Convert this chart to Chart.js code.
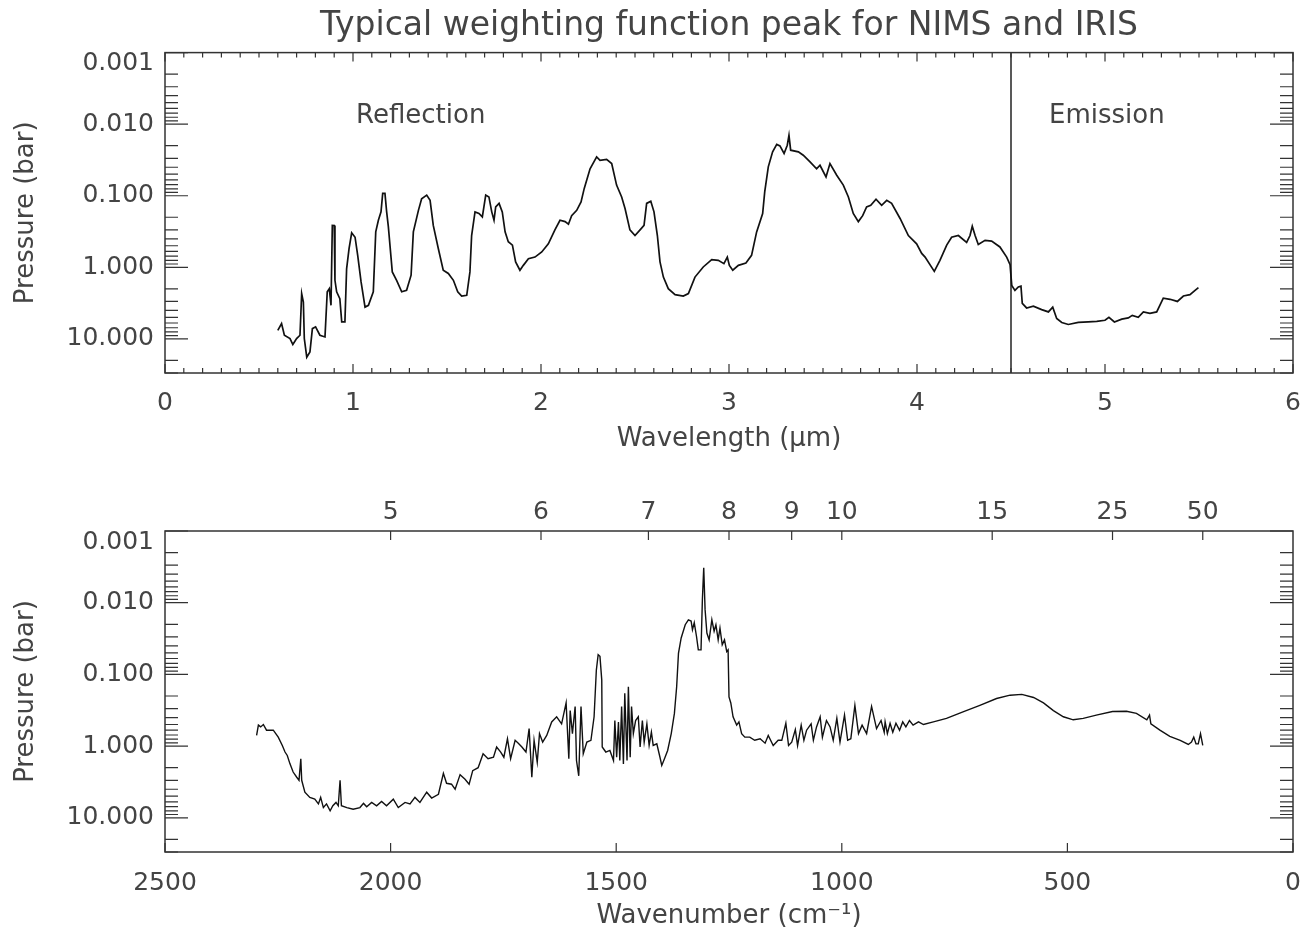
<!DOCTYPE html>
<html>
<head>
<meta charset="utf-8">
<title>Typical weighting function peak for NIMS and IRIS</title>
<script src="https://cdn.jsdelivr.net/npm/chart.js@4.4.1/dist/chart.umd.min.js"></script>
<style>
  html, body { margin: 0; padding: 0; background: #fff; }
  canvas { position: absolute; left: 0; }
  #top { top: 0; }
  #bottom { top: 460px; }
</style>
</head>
<body>
<canvas id="top" width="1301" height="460"></canvas>
<canvas id="bottom" width="1301" height="472"></canvas>
<script>
const FONT = "'DejaVu Sans', sans-serif";
const INK = '#444';
const LINE = '#111';

// axis ticks / labels
const pressureTicks = [0.001, 0.01, 0.1, 1, 10];
const wavelengthTicks = [0, 1, 2, 3, 4, 5, 6];
const wavenumberTicks = [2500, 2000, 1500, 1000, 500, 0];
const topWavelengthLabels = [5, 6, 7, 8, 9, 10, 15, 25, 50];
const regionNames = ['Reflection', 'Emission'];
const regionCentres = [1.36, 5.01];
const regionLabelPressure = 0.0077;
const boundaryWavelength = 4.5;

// NIMS: wavelength (um) vs pressure of weighting function peak (bar)
const nimsWavelength = [
  0.60, 0.62, 0.635, 0.665, 0.68, 0.70, 0.718, 0.727, 0.736, 0.741,
  0.754, 0.771, 0.784, 0.801, 0.824, 0.851, 0.863, 0.874, 0.883, 0.89,
  0.90, 0.904, 0.913, 0.93, 0.94, 0.957, 0.966, 0.979, 0.993, 1.011,
  1.025, 1.043, 1.064, 1.082, 1.108, 1.121, 1.135, 1.149, 1.158, 1.17,
  1.179, 1.188, 1.209, 1.232, 1.259, 1.285, 1.309, 1.321, 1.348, 1.365,
  1.392, 1.41, 1.427, 1.454, 1.48, 1.507, 1.534, 1.557, 1.578, 1.605,
  1.622, 1.631, 1.649, 1.67, 1.688, 1.706, 1.723, 1.738, 1.75, 1.759,
  1.777, 1.794, 1.809, 1.826, 1.848, 1.865, 1.888, 1.906, 1.933, 1.968,
  2.004, 2.039, 2.074, 2.101, 2.128, 2.146, 2.163, 2.19, 2.213, 2.23,
  2.261, 2.296, 2.314, 2.349, 2.376, 2.402, 2.429, 2.447, 2.473, 2.5,
  2.527, 2.548, 2.562, 2.584, 2.601, 2.619, 2.633, 2.651, 2.677, 2.713,
  2.757, 2.784, 2.819, 2.863, 2.908, 2.943, 2.973, 2.991, 3.002, 3.02,
  3.05, 3.09, 3.12, 3.147, 3.179, 3.19, 3.209, 3.232, 3.254, 3.271,
  3.293, 3.31, 3.319, 3.328, 3.369, 3.395, 3.431, 3.466, 3.484, 3.516,
  3.537, 3.573, 3.608, 3.635, 3.661, 3.688, 3.711, 3.732, 3.754, 3.782,
  3.812, 3.839,
  3.865, 3.91, 3.954, 3.998, 4.025, 4.043, 4.092, 4.122, 4.158, 4.184,
  4.22, 4.264, 4.282, 4.294, 4.309, 4.326, 4.362, 4.397, 4.441, 4.477,
  4.495, 4.504, 4.521, 4.539, 4.553, 4.56, 4.583, 4.619, 4.663, 4.699,
  4.722, 4.743, 4.77, 4.805, 4.858, 4.911, 4.956, 5.0, 5.021, 5.05,
  5.089, 5.124, 5.145, 5.177, 5.204, 5.239, 5.275, 5.31, 5.346, 5.385,
  5.417, 5.452, 5.479, 5.497
];
const nimsPressure = [
  7.6, 6.1, 8.9, 9.9, 12, 9.9, 8.9, 2.33, 3.06, 9.9,
  18, 15.2, 7.2, 6.8, 8.9, 9.4, 2.2, 1.99, 3.4, 0.259,
  0.26, 1.52, 2.2, 2.74, 5.8, 5.8, 1.05, 0.55, 0.33, 0.38,
  0.68, 1.6, 3.6, 3.4, 2.2, 0.32, 0.22, 0.168, 0.093, 0.093,
  0.168, 0.27, 1.16, 1.52, 2.2, 2.1, 1.29, 0.32, 0.16, 0.11,
  0.098, 0.116, 0.26, 0.55, 1.1, 1.22, 1.52, 2.2, 2.52, 2.46,
  1.16, 0.36, 0.168, 0.177, 0.198, 0.098, 0.104, 0.168, 0.22, 0.143,
  0.128, 0.168, 0.32, 0.44, 0.49, 0.84, 1.1, 0.94, 0.76, 0.72,
  0.61, 0.47, 0.30, 0.22, 0.23, 0.25, 0.19, 0.16, 0.122, 0.079,
  0.042, 0.0287, 0.032, 0.031, 0.0355, 0.071, 0.104, 0.151, 0.30, 0.36,
  0.30, 0.26, 0.128, 0.119, 0.168, 0.36, 0.84, 1.37, 1.99, 2.41,
  2.52, 2.33, 1.37, 0.99, 0.78, 0.80, 0.89, 0.72, 0.94, 1.1,
  0.94, 0.87, 0.68, 0.32, 0.177, 0.0885, 0.0395, 0.0244, 0.0192, 0.0201,
  0.0257, 0.0197, 0.0143, 0.0231, 0.0244, 0.0272, 0.0337, 0.042, 0.0375, 0.0546,
  0.0355, 0.0517, 0.071, 0.104, 0.177, 0.23, 0.19, 0.143, 0.136, 0.112,
  0.136, 0.116,
  0.128, 0.208, 0.36, 0.47, 0.64, 0.72, 1.14, 0.80, 0.49, 0.38,
  0.36, 0.45, 0.36, 0.267, 0.36, 0.48, 0.42, 0.43, 0.52, 0.72,
  0.92, 1.79, 2.1, 1.88, 1.83, 3.2, 3.7, 3.5, 3.9, 4.2,
  3.6, 5.2, 5.9, 6.3, 5.9, 5.8, 5.7, 5.5, 5.0, 5.8,
  5.3, 5.1, 4.7, 5.0, 4.2, 4.4, 4.2, 2.7, 2.8, 3.0,
  2.52, 2.41, 2.1, 1.92
];

// IRIS: wavenumber (cm-1) vs pressure (bar)
const irisWavenumber = [
  2297, 2293, 2288, 2282, 2275, 2260, 2249, 2240, 2234, 2229,
  2223, 2216, 2208, 2203, 2199, 2197, 2190, 2179, 2168, 2160,
  2155, 2149, 2142, 2134, 2128, 2121, 2116, 2112, 2109, 2097,
  2083, 2068, 2060, 2053, 2042, 2031, 2020, 2009, 1994, 1983,
  1968, 1957, 1946, 1935, 1920, 1909, 1894, 1883, 1876, 1865,
  1857, 1846, 1835, 1826, 1818, 1806, 1795, 1784, 1772, 1765,
  1756, 1749, 1741, 1734, 1724, 1717, 1709, 1700, 1693, 1687,
  1682, 1675, 1670, 1663, 1654, 1643, 1632, 1621, 1611, 1605,
  1602, 1597, 1591, 1588, 1583, 1578, 1573, 1565, 1556, 1549,
  1544, 1540, 1536, 1532, 1531, 1523, 1514, 1506, 1503, 1499,
  1495, 1492, 1488, 1484, 1481, 1476, 1473, 1469, 1466, 1462,
  1457, 1451, 1447, 1442, 1438, 1432, 1427, 1422, 1418, 1410,
  1403, 1399, 1393, 1386, 1378, 1371, 1366, 1362, 1356, 1347,
  1340, 1334, 1331, 1327, 1322, 1318, 1312, 1309, 1306, 1303,
  1299, 1294, 1288, 1283, 1279, 1274, 1270, 1265, 1260, 1255,
  1252, 1250, 1246, 1241, 1233, 1228, 1222, 1215, 1204, 1193,
  1181, 1170, 1163, 1152, 1141, 1133, 1124, 1118, 1111, 1103,
  1098, 1090, 1084, 1078, 1068, 1063, 1056, 1048, 1043, 1034,
  1026, 1019, 1011, 1004, 994, 987, 980, 971, 963, 955,
  945, 934, 923, 913, 906,
  904, 899, 893, 887, 880, 872, 865, 858, 850, 842,
  830, 819, 797, 768, 730, 694, 657, 627, 601, 575,
  553, 531, 509, 487, 465, 436, 400, 369, 347, 324,
  318, 315, 295, 273, 250, 232, 225, 220, 215, 210,
  205, 200
];
const irisPressure = [
  0.71, 0.51, 0.54, 0.50, 0.60, 0.60, 0.75, 0.98, 1.21, 1.35,
  1.77, 2.3, 2.72, 3.0, 1.5, 3.0, 4.4, 5.2, 5.5, 6.4,
  5.2, 7.2, 6.4, 8.0, 6.8, 6.1, 6.8, 3.0, 6.8, 7.2,
  7.6, 7.2, 6.3, 7.0, 6.1, 6.8, 5.9, 6.8, 5.5, 7.2,
  6.1, 6.4, 5.2, 6.1, 4.4, 5.3, 4.7, 2.4, 3.3, 3.4,
  4.0, 2.5, 2.9, 3.4, 2.2, 2.0, 1.28, 1.5, 1.43, 1.03,
  1.21, 1.43, 0.79, 1.5, 0.83, 0.91, 1.03, 1.21, 0.57, 2.72,
  0.83, 1.68, 0.67, 0.88, 0.71, 0.46, 0.39, 0.49, 0.25, 1.5,
  0.32, 0.67, 0.28, 1.59, 2.6, 0.28, 1.28, 0.88, 0.83, 0.39,
  0.087, 0.053, 0.056, 0.12, 1.03, 1.21, 1.15, 1.59, 0.44, 1.43,
  0.46, 1.59, 0.28, 1.77, 0.184, 1.59, 0.149, 1.43, 0.28, 0.67,
  0.44, 0.39, 1.03, 0.44, 0.88, 0.49, 0.98, 0.64, 0.98, 0.93,
  1.43, 1.86, 1.5, 1.15, 0.67, 0.35, 0.149, 0.051, 0.031, 0.0203,
  0.0173, 0.018, 0.0238, 0.019, 0.0296, 0.0455, 0.0455, 0.0091, 0.00325, 0.0125,
  0.0265, 0.033, 0.0173, 0.025, 0.0203, 0.033, 0.0226, 0.0387, 0.033, 0.048,
  0.0455, 0.206, 0.25, 0.39, 0.51, 0.46, 0.67, 0.75, 0.75, 0.83,
  0.79, 0.91, 0.71, 0.98, 0.83, 0.83, 0.48, 0.98, 0.88, 0.59,
  0.98, 0.51, 0.83, 0.60, 0.49, 0.83, 0.54, 0.39, 0.75, 0.44,
  0.54, 0.83, 0.41, 0.88, 0.37, 0.83, 0.79, 0.27, 0.67, 0.51,
  0.67, 0.28, 0.57, 0.44, 0.64,
  0.46, 0.67, 0.48, 0.64, 0.48, 0.60, 0.46, 0.54, 0.44, 0.51,
  0.46, 0.50, 0.46, 0.41, 0.33, 0.27, 0.217, 0.195, 0.19, 0.21,
  0.25, 0.32, 0.39, 0.43, 0.41, 0.37, 0.33, 0.326, 0.35, 0.43,
  0.37, 0.49, 0.60, 0.73, 0.83, 0.95, 0.88, 0.75, 0.93, 0.93,
  0.67, 0.98
];

// minor tick positions (IDL style inward ticks)
const minorPressure = [];
pressureTicks.forEach(d => {
  for (let m = 2; m <= 9; m++) if (m * d <= 30) minorPressure.push(m * d);
});
const minorWavelength = [];
for (let i = 0; i <= 60; i++) minorWavelength.push(i / 10);

// x axes: fixed height, and no extra side padding for the end labels
function fixHeight(h) {
  return s => { s.height = h; s.paddingLeft = 0; s.paddingRight = 0; };
}

function pressureAxis() {
  return {
    type: 'logarithmic', position: 'left', min: 0.001, max: 30, reverse: true,
    grid: { display: false, drawTicks: false }, border: { display: false },
    afterFit: s => { s.width = 165; },
    afterBuildTicks: s => { s.ticks = pressureTicks.map(v => ({ value: v })); },
    ticks: {
      padding: 11, color: INK, autoSkip: false,
      // IDL pushes the top label inside the frame
      font: c => ({ family: FONT, size: 25, lineHeight: c.tick && c.tick.value === 0.001 ? 0.88 : 1.2 }),
      callback: v => v === 0.001 ? ['', v.toFixed(3)] : v.toFixed(3)
    },
    title: { display: true, text: 'Pressure (bar)', color: INK, font: { family: FONT, size: 26 }, padding: { top: 11, bottom: 0 } }
  };
}

function framePlugin(marks, labels) {
  return {
    id: 'frame',
    afterDatasetsDraw(chart) {
      const { ctx, chartArea: a, scales } = chart;
      ctx.save();
      ctx.strokeStyle = '#333';
      ctx.lineWidth = 1.5;
      ctx.strokeRect(a.left, a.top, a.right - a.left, a.bottom - a.top);
      ctx.lineWidth = 1.2;
      ctx.beginPath();
      marks.forEach(m => {
        const s = scales[m.scale];
        m.values.forEach(v => {
          const p = s.getPixelForValue(v);
          m.edges.forEach(e => {
            if (e === 'bottom') { ctx.moveTo(p, a.bottom); ctx.lineTo(p, a.bottom - m.len); }
            if (e === 'top') { ctx.moveTo(p, a.top); ctx.lineTo(p, a.top + m.len); }
            if (e === 'left') { ctx.moveTo(a.left, p); ctx.lineTo(a.left + m.len, p); }
            if (e === 'right') { ctx.moveTo(a.right, p); ctx.lineTo(a.right - m.len, p); }
          });
        });
      });
      ctx.stroke();
      ctx.fillStyle = INK;
      ctx.font = '26px ' + FONT;
      ctx.textAlign = 'center';
      ctx.textBaseline = 'middle';
      labels.forEach(l => {
        ctx.fillText(l.text, scales.x.getPixelForValue(l.x), scales.y.getPixelForValue(l.y));
      });
      ctx.restore();
    }
  };
}

const pressureMarks = [
  { scale: 'y', values: minorPressure, edges: ['left', 'right'], len: 13 },
  { scale: 'y', values: pressureTicks, edges: ['left', 'right'], len: 23 }
];

// top panel: NIMS vs wavelength
new Chart(document.getElementById('top'), {
  type: 'line',
  data: {
    datasets: [
      {
        data: nimsWavelength.map((x, i) => ({ x, y: nimsPressure[i] })),
        borderColor: LINE, borderWidth: 1.7, pointRadius: 0, tension: 0
      },
      {
        data: [{ x: boundaryWavelength, y: 0.001 }, { x: boundaryWavelength, y: 30 }],
        borderColor: '#222', borderWidth: 1.5, pointRadius: 0
      }
    ]
  },
  options: {
    responsive: false, animation: false,
    layout: { padding: { left: 0, right: 8, top: 0, bottom: 0 } },
    plugins: {
      legend: { display: false }, tooltip: { enabled: false },
      title: {
        display: true, fullSize: false, text: 'Typical weighting function peak for NIMS and IRIS',
        color: INK, font: { family: FONT, size: 33, weight: 'normal' }, padding: { top: 7, bottom: 6 }
      }
    },
    scales: {
      x: {
        type: 'linear', position: 'bottom', min: 0, max: 6,
        grid: { display: false, drawTicks: false }, border: { display: false },
        afterFit: fixHeight(87),
        afterBuildTicks: s => { s.ticks = wavelengthTicks.map(v => ({ value: v })); },
        ticks: { padding: 15, color: INK, font: { family: FONT, size: 25 }, maxRotation: 0, autoSkip: false, callback: v => String(v) },
        title: { display: true, text: 'Wavelength (\u03bcm)', color: INK, font: { family: FONT, size: 26 }, padding: { top: 0, bottom: 5 } }
      },
      y: pressureAxis()
    }
  },
  plugins: [framePlugin(
    [
      { scale: 'x', values: minorWavelength, edges: ['bottom', 'top'], len: 5 },
      { scale: 'x', values: wavelengthTicks, edges: ['bottom', 'top'], len: 9 }
    ].concat(pressureMarks),
    regionNames.map((t, i) => ({ text: t, x: regionCentres[i], y: regionLabelPressure }))
  )]
});

// bottom panel: IRIS vs wavenumber, wavelength on the top axis
new Chart(document.getElementById('bottom'), {
  type: 'line',
  data: {
    datasets: [{
      data: irisWavenumber.map((x, i) => ({ x, y: irisPressure[i] })),
      borderColor: LINE, borderWidth: 1.4, pointRadius: 0, tension: 0
    }]
  },
  options: {
    responsive: false, animation: false,
    layout: { padding: { left: 0, right: 8, top: 0, bottom: 0 } },
    plugins: { legend: { display: false }, tooltip: { enabled: false } },
    scales: {
      x: {
        type: 'linear', position: 'bottom', min: 0, max: 2500, reverse: true,
        grid: { display: false, drawTicks: false }, border: { display: false },
        afterFit: fixHeight(80),
        afterBuildTicks: s => { s.ticks = wavenumberTicks.map(v => ({ value: v })); },
        ticks: { padding: 16, color: INK, font: { family: FONT, size: 25 }, maxRotation: 0, autoSkip: false, callback: v => String(v) },
        title: { display: true, text: 'Wavenumber (cm\u207b\u00b9)', color: INK, font: { family: FONT, size: 26 }, padding: { top: 0, bottom: 0 } }
      },
      x2: {
        type: 'linear', position: 'top', min: 0, max: 2500, reverse: true,
        grid: { display: false, drawTicks: false }, border: { display: false },
        afterFit: fixHeight(71),
        afterBuildTicks: s => { s.ticks = topWavelengthLabels.map(w => ({ value: 10000 / w })); },
        ticks: { padding: 4, color: INK, font: { family: FONT, size: 25 }, maxRotation: 0, autoSkip: false, callback: v => String(Math.round(10000 / v)) }
      },
      y: pressureAxis()
    }
  },
  plugins: [framePlugin(
    [
      { scale: 'x', values: wavenumberTicks, edges: ['bottom'], len: 9 },
      { scale: 'x2', values: topWavelengthLabels.map(w => 10000 / w), edges: ['top'], len: 9 }
    ].concat(pressureMarks),
    []
  )]
});
</script>
</body>
</html>
